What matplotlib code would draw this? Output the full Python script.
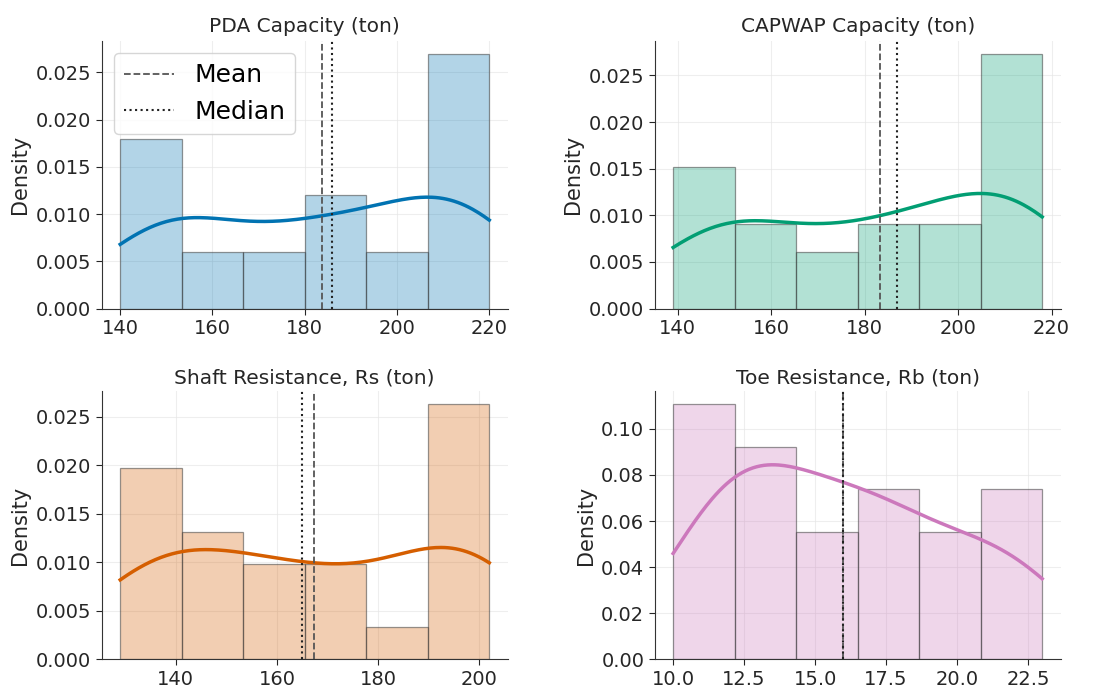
import numpy as np
import matplotlib
matplotlib.use("Agg")
from matplotlib import pyplot as plt
import seaborn as sns

# pile test values (25 piles), read back from the histogram bins
pda = [140, 145, 148, 150, 152, 153, 155, 160, 170, 176, 180.5, 182, 186,
       187, 194, 197, 207, 208, 209, 211, 213, 215, 217, 219, 220]
capwap = [139, 143, 147, 149, 151, 153, 157, 161, 170, 176, 179, 181, 187,
          192, 193, 196, 205, 206, 208, 210, 212, 214, 216, 217, 218]
shaft = [129, 131, 133, 135, 137, 140, 144, 148, 151, 153, 160, 164, 165,
         170, 175, 177.5, 189, 192, 194, 196, 197, 198, 200, 201, 202]
toe = [10.0, 11.0, 11.4, 11.7, 12.0, 12.1, 12.6, 13.2, 13.7, 14.1, 14.3,
       14.6, 16.0, 16.4, 16.7, 17.0, 17.4, 17.9, 19.0, 19.7, 20.3,
       21.2, 22.0, 22.6, 23.0]

titles = ["PDA Capacity (ton)", "CAPWAP Capacity (ton)",
          "Shaft Resistance, Rs (ton)", "Toe Resistance, Rb (ton)"]
colors = ["#0173b2", "#029e73", "#d55e00", "#cc78bc"]
series = [pda, capwap, shaft, toe]

fig, axes = plt.subplots(2, 2, figsize=(11.06, 6.91), dpi=100)
fig.subplots_adjust(left=0.092, right=0.959, top=0.941, bottom=0.046,
                    wspace=0.362, hspace=0.309)

for i, ax in enumerate(axes.flat):
    x = np.array(series[i])
    sns.histplot(x, bins=6, stat="density", kde=True, color=colors[i],
                 alpha=0.3, ax=ax, line_kws={"linewidth": 2.5})
    for p in ax.patches:
        fc = p.get_facecolor()
        p.set_alpha(None)
        p.set_facecolor(fc)
        p.set_edgecolor((0.25, 0.25, 0.25, 0.55))
        p.set_linewidth(0.9)
    ax.axvline(np.mean(x), color="#555555", linestyle="--", linewidth=1.3,
               label="Mean")
    ax.axvline(np.median(x), color="#222222", linestyle=":", linewidth=1.5,
               label="Median")
    ax.set_title(titles[i], fontsize=14.5, color="#262626")
    ax.set_xlabel("")
    ax.set_ylabel("Density", fontsize=15, color="#262626")
    ax.tick_params(labelsize=14, colors="#262626", length=4)
    ax.grid(True, color="#e4e4e4", alpha=0.6, linewidth=0.8)
    ax.set_axisbelow(True)
    for s in ["top", "right"]:
        ax.spines[s].set_visible(False)
    for s in ["left", "bottom"]:
        ax.spines[s].set_color("#333333")
    if i == 0:
        ax.legend(loc="upper left", fontsize=18)

plt.savefig("out.png", dpi=100)
